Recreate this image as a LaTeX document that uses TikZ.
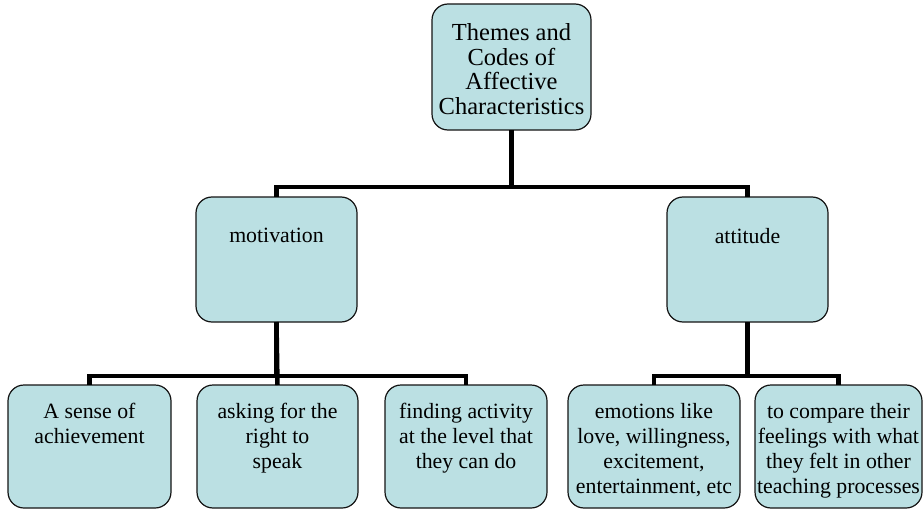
\documentclass[tikz,border=0pt]{standalone}
\usepackage{fontspec}
\setmainfont{LiberationSerif}[Extension=.ttf, UprightFont=*-Regular, BoldFont=*-Bold, ItalicFont=*-Italic, BoldItalicFont=*-BoldItalic]
\definecolor{boxfill}{RGB}{187,224,227}
\definecolor{boxline}{RGB}{20,20,20}
\newcommand{\bxtext}[4]{\parbox[c][#2][t]{#1}{\centering\vspace*{#3}#4\par}}
\tikzset{
  cbox/.style={draw=boxline, fill=boxfill, line width=1.2pt, rounded corners=16pt, inner sep=0pt, outer sep=0pt},
  conn/.style={draw=black, line width=4.5pt},
  bigtxt/.style={font=\rmfamily\fontsize{24.5}{24.5}\selectfont},
  smalltxt/.style={font=\rmfamily\fontsize{21.8}{25}\selectfont}
}
\begin{document}
\begin{tikzpicture}[x=1pt,y=-1pt]
\useasboundingbox (0,0) rectangle (924,511);
% top
\node[cbox,bigtxt] (top) at (511.5,67) {\bxtext{159pt}{126pt}{20pt}{Themes and\\Codes of\\Affective\\Characteristics}};
% level 2
\node[cbox,smalltxt] (mot) at (276.5,259.5) {\bxtext{161pt}{125pt}{31pt}{motivation}};
\node[cbox,smalltxt] (att) at (747.5,259.5) {\bxtext{161pt}{125pt}{31pt}{attitude}};
% level 3
\node[cbox,smalltxt] (b1) at (89.5,446.5) {\bxtext{163pt}{123pt}{18pt}{A sense of\\achievement}};
\node[cbox,smalltxt] (b2) at (277.5,446.5) {\bxtext{161pt}{123pt}{18pt}{asking for the\\right to\\speak}};
\node[cbox,smalltxt] (b3) at (466,446.5) {\bxtext{162pt}{123pt}{18pt}{finding activity\\at the level that\\they can do}};
\node[cbox,smalltxt] (b4) at (654,446.5) {\bxtext{172pt}{123pt}{18pt}{emotions like\\love, willingness,\\excitement,\\entertainment, etc}};
\node[cbox,smalltxt] (b5) at (838.5,446.5) {\bxtext{167pt}{123pt}{18pt}{to compare their\\feelings with what\\they felt in other\\teaching processes}};
% connectors
\draw[conn] (top.south) -- ++(0,57) -| (mot.north);
\draw[conn] (top.south) -- ++(0,57) -| (att.north);
\draw[conn] (mot.south) -- ++(0,54) -| (b1.north);
\draw[conn] (mot.south) -- (b2.north);
\draw[conn] (mot.south) -- ++(0,54) -| (b3.north);
\draw[conn] (att.south) -- ++(0,54) -| (b4.north);
\draw[conn] (att.south) -- ++(0,54) -| (b5.north);
\end{tikzpicture}
\end{document}
